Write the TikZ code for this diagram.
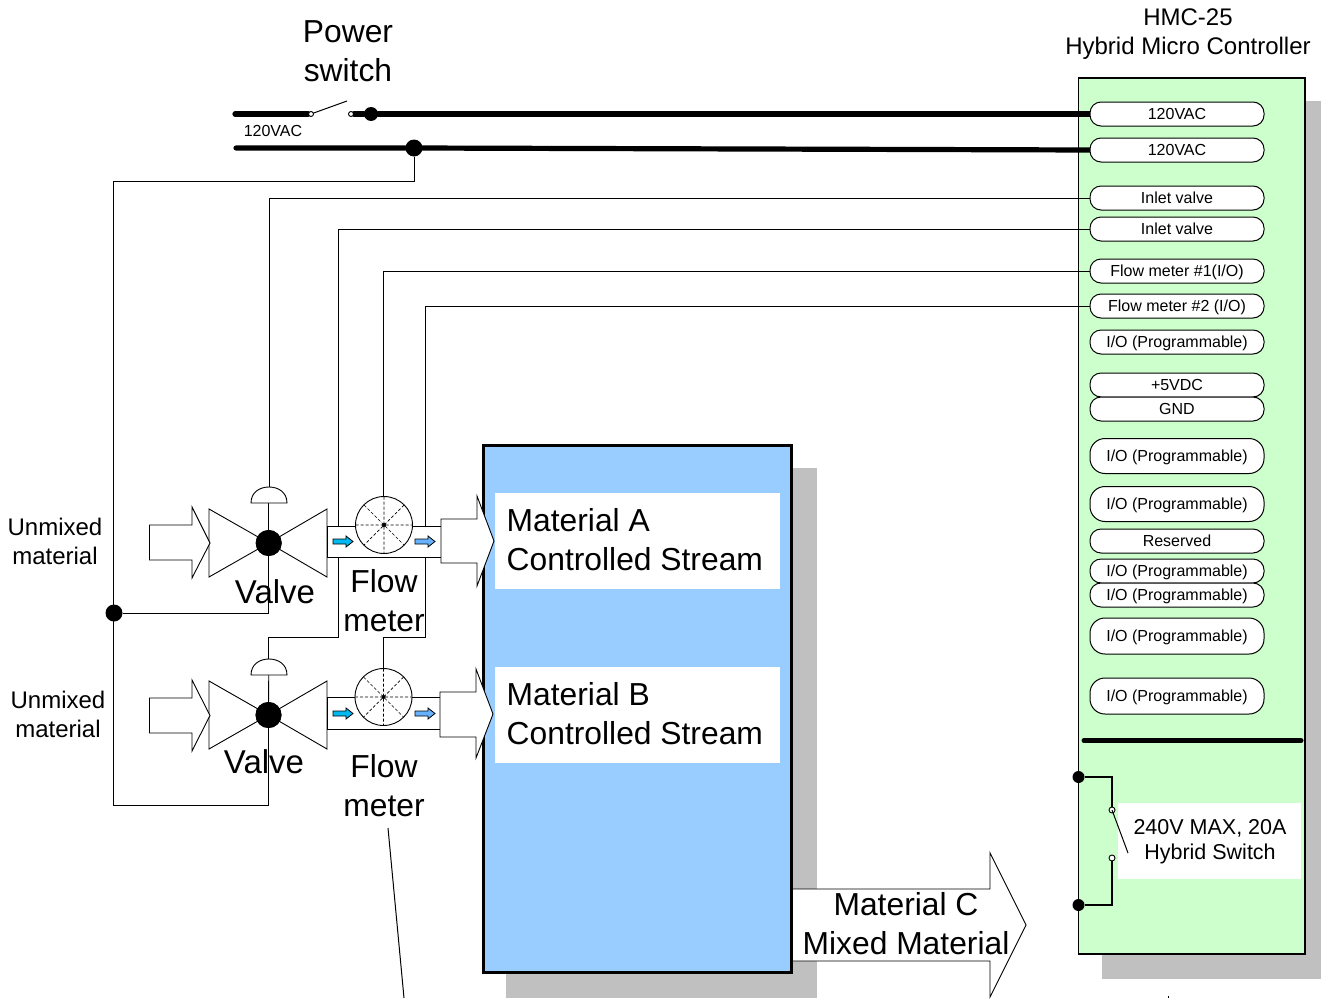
\documentclass[tikz,border=0pt]{standalone}
\usepackage{fontspec}
\setmainfont{Liberation Sans}
\usetikzlibrary{backgrounds}
\pgfdeclarelayer{bgl}
\pgfdeclarelayer{wirel}
\pgfsetlayers{bgl,wirel,main}
\definecolor{shadowgray}{HTML}{C0C0C0}
\definecolor{panelgreen}{HTML}{CCFFCC}
\definecolor{tankblue}{HTML}{99CCFF}
\definecolor{cyanarrow}{HTML}{00B8F0}
\definecolor{bluearrow}{HTML}{66B2FF}
\tikzset{
  pill/.style={draw=black,fill=white,line width=1pt,rounded corners=11pt,minimum width=174pt,inner sep=0pt,outer sep=0pt,font=\fontsize{16}{18}\selectfont,text=black,text height=11.5pt,text depth=0pt},
  wire/.style={draw=black,line width=0.85pt},
  power/.style={draw=black,line width=5.2pt,line cap=round},
  sym/.style={draw=black,line width=0.9pt,fill=white,line join=miter},
  dot/.style={circle,fill=black,inner sep=0pt,outer sep=0pt},
  contact/.style={circle,draw=black,fill=white,line width=0.9pt,inner sep=0pt,minimum size=6pt},
  meter/.style={circle,draw=black,fill=white,line width=0.9pt,inner sep=0pt,outer sep=0pt,minimum size=57pt},
  spoke/.style={densely dashed,line width=0.7pt,draw=black},
  bigtext/.style={align=center,inner sep=0pt,font=\fontsize{31.8}{39}\selectfont},
  midtext/.style={align=center,inner sep=0pt,font=\fontsize{24}{29}\selectfont},
  whitebox/.style={fill=white,inner sep=0pt}
}
\begin{document}
\begin{tikzpicture}[x=1pt,y=-1pt]
\useasboundingbox (0,0) rectangle (1321,998);
\begin{pgfonlayer}{bgl}
  \fill[shadowgray] (506,468) rectangle (817,998);
  \fill[shadowgray] (1102,101) rectangle (1321,979);
  \draw[fill=panelgreen,line width=1.6pt] (1078.5,78) rectangle (1305,954);
\end{pgfonlayer}

% Controller pins
\node[pill,minimum height=24pt] (p1) at (1177,114) {120VAC};
\node[pill,minimum height=24pt] (p2) at (1177,150) {120VAC};
\node[pill,minimum height=24pt] (p3) at (1177,198) {Inlet valve};
\node[pill,minimum height=24pt] (p4) at (1177,229) {Inlet valve};
\node[pill,minimum height=24pt] (p5) at (1177,271) {Flow meter \#1(I/O)};
\node[pill,minimum height=24pt] (p6) at (1177,306) {Flow meter \#2 (I/O)};
\node[pill,minimum height=24pt] (p7) at (1177,342) {I/O (Programmable)};
\node[pill,minimum height=24pt] (p8) at (1177,385) {+5VDC};
\node[pill,minimum height=24pt] (p9) at (1177,409) {GND};
\node[pill,minimum height=35pt,rounded corners=15pt] (p10) at (1177,456) {I/O (Programmable)};
\node[pill,minimum height=35pt,rounded corners=15pt] (p11) at (1177,504) {I/O (Programmable)};
\node[pill,minimum height=24pt] (p12) at (1177,541) {Reserved};
\node[pill,minimum height=24pt] (p13) at (1177,571) {I/O (Programmable)};
\node[pill,minimum height=24pt] (p14) at (1177,595) {I/O (Programmable)};
\node[pill,minimum height=36pt,rounded corners=15pt] (p15) at (1177,636) {I/O (Programmable)};
\node[pill,minimum height=36pt,rounded corners=15pt] (p16) at (1177,696) {I/O (Programmable)};

% Power switch
\node[contact,minimum size=5pt] (sw1) at (311,114) {};
\node[contact,minimum size=5pt] (sw2) at (351,114) {};
\coordinate (swblade) at (347,101);
\coordinate (l1) at (235,114);
\coordinate (l2) at (236,148);
\node[dot,minimum size=14pt] (j1) at (371,114) {};
\node[dot,minimum size=17pt] (j2) at (414,148) {};
\node[dot,minimum size=17pt] (j3) at (114,613) {};

% Valves and meters
\coordinate (a1) at (269.7,487);
\coordinate (a2) at (268.7,659);
\node[dot,minimum size=26pt] (v1) at (268.7,543) {};
\node[dot,minimum size=26pt] (v2) at (268.5,715) {};
\coordinate (a1b) at (268.7,503);
\coordinate (a2b) at (268.7,675);
\coordinate (b1) at (338.6,637);
\coordinate (b2) at (425.8,637);

\begin{pgfonlayer}{wirel}
  \draw[power] (l1) -- (sw1.west);
  \draw[power] (sw2.east) -- (j1) -- (p1.west);
  \draw[power] (l2) -- (j2) -- (p2.west);
  \draw[line width=1pt] (sw1.center) -- (swblade);
  \draw[wire] (j2) |- (113.7,181) -- (113.7,613);
  \draw[wire] (113.7,613) -- (113.7,805) -| (v2);
  \draw[wire] (j3) -| (v1);
  \draw[wire] (p3.west) -| (a1);
  \draw[wire] (a1b) -- (v1);
  \draw[wire] (p4.west) -| (b1) -| (a2);
  \draw[wire] (a2b) -- (v2);
  \draw[wire] (p5.west) -| (383.7,497);
  \draw[wire] (p6.west) -| (b2) -| (383.7,669);
\end{pgfonlayer}

% Upper pipe and meter
\draw[sym] (327,526) rectangle (441,557);
\node[meter] (fm1) at (384,525) {};
\draw[spoke] (355.5,525) -- (412.5,525) (384,496.5) -- (384,553.5) (364,505) -- (404,545) (404,505) -- (364,545);
\fill (384,525) circle (2pt);
% Lower pipe and meter
\draw[sym] (327,697) rectangle (440,729);
\node[meter] (fm2) at (383.5,697) {};
\draw[spoke] (355,697) -- (412,697) (383.5,668.5) -- (383.5,725.5) (363.5,677) -- (403.5,717) (403.5,677) -- (363.5,717);
\fill (383.5,697) circle (2pt);

% Small flow arrows
\draw[fill=cyanarrow,line width=0.8pt] (333,539) -- (346,539) -- (346,536) -- (353,541.5) -- (346,547) -- (346,544) -- (333,544) -- cycle;
\draw[fill=bluearrow,line width=0.8pt] (415,539) -- (428,539) -- (428,536) -- (435,541.5) -- (428,547) -- (428,544) -- (415,544) -- cycle;
\draw[fill=cyanarrow,line width=0.8pt] (333,711) -- (346,711) -- (346,708) -- (353,713.5) -- (346,719) -- (346,716) -- (333,716) -- cycle;
\draw[fill=bluearrow,line width=0.8pt] (415,711) -- (428,711) -- (428,708) -- (435,713.5) -- (428,719) -- (428,716) -- (415,716) -- cycle;

% Valve bodies
\draw[sym,fill=none] (209,509) -- (209,577) -- (v1.center) -- cycle;
\draw[sym,fill=none] (327,509) -- (327,577) -- (v1.center) -- cycle;
\draw[sym,fill=none] (209,681) -- (209,749) -- (v2.center) -- cycle;
\draw[sym,fill=none] (327,681) -- (327,749) -- (v2.center) -- cycle;
\node[dot,minimum size=26pt] at (v1) {};
\node[dot,minimum size=26pt] at (v2) {};
% Actuators
\draw[sym] (251,503) .. controls (251,492) and (260,487) .. (269,487) .. controls (278,487) and (287,492) .. (287,503) -- cycle;
\draw[sym] (251,675) .. controls (251,664) and (260,659) .. (269,659) .. controls (278,659) and (287,664) .. (287,675) -- cycle;

% Tank
\draw[fill=tankblue,line width=3pt] (483.5,445) rectangle (791.7,972);

% Block arrows
\draw[sym] (149.5,525) -- (192,525) -- (192,507) -- (210,543) -- (192,578) -- (192,560) -- (149.5,560) -- cycle;
\draw[sym] (149.5,698) -- (192,698) -- (192,680) -- (210,715.5) -- (192,751) -- (192,733) -- (149.5,733) -- cycle;
\draw[sym] (441,519) -- (477,519) -- (477,496) -- (494,541) -- (477,586) -- (477,563) -- (441,563) -- cycle;
\draw[sym] (440,692) -- (476,692) -- (476,669) -- (493,714) -- (476,758) -- (476,737) -- (440,737) -- cycle;
\draw[sym] (793.2,889) -- (990,889) -- (990,853) -- (1026,925) -- (990,997) -- (990,961) -- (793.2,961);

% Tank labels
\node[whitebox,minimum width=285pt,minimum height=96pt] (wa) at (637.5,541) {};
\node[whitebox,minimum width=285pt,minimum height=96pt] (wb) at (637.5,715) {};
\node[bigtext,align=left,anchor=west] (ta) at (506.5,539.5) {Material A\\Controlled Stream};
\node[bigtext,align=left,anchor=west] (tb) at (506.5,713.5) {Material B\\Controlled Stream};
\node[bigtext] (tc) at (906,923.5) {Material C\\Mixed Material};

% Hybrid switch
\draw[power,line width=5pt] (1084,740.5) -- (1301,740.5);
\node[whitebox,minimum width=183pt,minimum height=76pt] (ws) at (1209.5,841) {};
\node[align=center,inner sep=0pt,font=\fontsize{21.5}{25}\selectfont] (ts) at (1210,842) {240V MAX, 20A\\Hybrid Switch};
\node[dot,minimum size=12pt] (h1) at (1078.5,777) {};
\node[dot,minimum size=12pt] (h2) at (1078.5,905) {};
\node[contact] (c1) at (1112,810) {};
\node[contact] (c2) at (1112,858) {};
\coordinate (hblade) at (1128,853);
\draw[line width=1.8pt] (h1) -| (c1.north);
\draw[line width=1.8pt] (h2) -| (c2.south);
\draw[line width=1pt] (c1.center) -- (hblade);

% Free lines
\coordinate (fa) at (388,828);
\coordinate (fb) at (404,998);
\draw[line width=1pt] (fa) -- (fb);
\coordinate (ta1) at (1168,996);
\coordinate (ta2) at (1168,998);
\draw[line width=0.8pt] (ta1) -- (ta2);

% Labels
\node[bigtext] (tpower) at (348,51) {Power\\switch};
\node[midtext,font=\fontsize{16}{18}\selectfont] (tvac) at (273,131) {120VAC};
\node[midtext] (thmc) at (1188,34) {HMC-25\\Hybrid Micro Controller};
\node[midtext] (tu1) at (55,541) {Unmixed\\material};
\node[midtext] (tu2) at (58,714) {Unmixed\\material};
\node[bigtext,font=\fontsize{33}{39}\selectfont] (tv1) at (275,592) {Valve};
\node[bigtext,font=\fontsize{33}{39}\selectfont] (tv2) at (264,762) {Valve};
\node[bigtext] (tf1) at (384,601) {Flow\\meter};
\node[bigtext] (tf2) at (384,785.5) {Flow\\meter};
\end{tikzpicture}
\end{document}
